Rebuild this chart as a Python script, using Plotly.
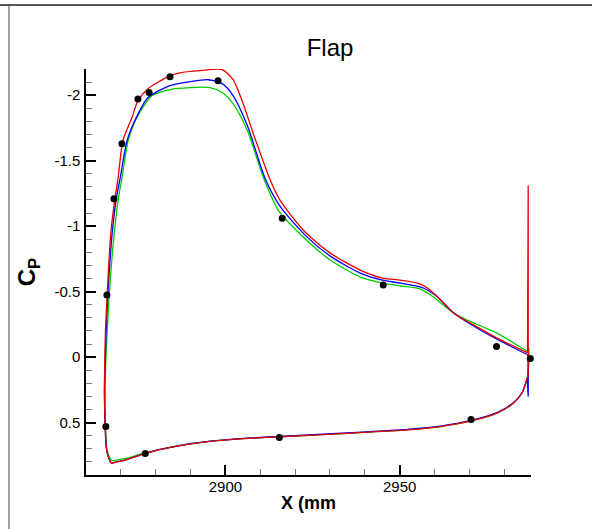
import plotly.graph_objects as go

# ---- data ----
lower_x = [2986.6, 2985.2, 2982.7, 2978.1, 2970.5, 2961.7, 2952.2, 2940.7, 2929.2,
           2915.5, 2905.2, 2895.6, 2886.1, 2876.8, 2871.7, 2867.8]
lower_y_red = [0.16, 0.27, 0.35, 0.426, 0.487, 0.53, 0.555, 0.573, 0.59,
               0.608, 0.622, 0.643, 0.68, 0.736, 0.782, 0.807]
lower_y_blue = [0.16, 0.268, 0.346, 0.422, 0.483, 0.526, 0.551, 0.57, 0.587,
                0.606, 0.62, 0.642, 0.679, 0.736, 0.782, 0.807]
lower_y_green = [0.16, 0.27, 0.35, 0.426, 0.487, 0.53, 0.555, 0.573, 0.59,
                 0.608, 0.622, 0.643, 0.678, 0.732, 0.772, 0.79]

red_x = [2867.4, 2866.9, 2865.9, 2865.5, 2865.3, 2865.4, 2865.6, 2866.1, 2866.6, 2867.2,
         2868.3, 2869.2, 2870.6, 2873.2, 2874.9, 2877.8, 2880.4, 2884.1, 2887.0, 2892.8,
         2899.1, 2902.2, 2905.1, 2908.0, 2912.9, 2915.7, 2922.4, 2930.1, 2938.7, 2945.1,
         2950.2, 2955.1, 2958.0, 2960.9, 2965.5, 2971.2, 2977.8, 2986.7]
red_y = [0.812, 0.795, 0.705, 0.528, 0.272, 0.02, -0.21, -0.49, -0.74, -0.97,
         -1.21, -1.364, -1.654, -1.829, -1.959, -2.05, -2.095, -2.148, -2.171, -2.187,
         -2.195, -2.118, -1.935, -1.707, -1.35, -1.197, -0.969, -0.794, -0.665, -0.604,
         -0.588, -0.565, -0.528, -0.459, -0.337, -0.246, -0.147, -0.033]
red_te_x = [2986.7, 2986.9, 2986.9, 2986.6]
red_te_y = [-0.033, -1.31, 0.15, 0.16]

blue_x = [2867.4, 2866.9, 2865.9, 2865.5, 2865.3, 2865.5, 2865.8, 2866.3, 2866.9, 2867.6,
          2868.7, 2869.8, 2871.8, 2874.7, 2877.8, 2884.1, 2889.9, 2895.1, 2899.1, 2902.2,
          2906.3, 2911.4, 2915.5, 2922.4, 2930.1, 2938.7, 2945.1, 2950.2, 2956.8, 2960.9,
          2965.5, 2971.2, 2977.8, 2986.7]
blue_y = [0.812, 0.795, 0.705, 0.528, 0.272, 0.02, -0.21, -0.49, -0.74, -0.97,
          -1.21, -1.364, -1.654, -1.844, -1.982, -2.073, -2.103, -2.118, -2.088, -1.997,
          -1.768, -1.364, -1.159, -0.945, -0.771, -0.642, -0.588, -0.565, -0.528, -0.459,
          -0.337, -0.238, -0.139, -0.018]
blue_te_x = [2986.7, 2986.9, 2986.9, 2986.6]
blue_te_y = [-0.018, 0.0, 0.30, 0.16]

green_x = [2867.4, 2866.9, 2866.0, 2865.6, 2865.5, 2865.7, 2866.1, 2866.7, 2867.4, 2868.2,
           2869.3, 2870.3, 2872.1, 2874.9, 2879.0, 2884.1, 2889.9, 2895.6, 2899.1, 2902.2,
           2906.3, 2910.9, 2915.2, 2922.4, 2930.1, 2938.7, 2945.1, 2950.2, 2956.0, 2959.7,
           2965.5, 2971.2, 2977.8, 2986.7]
green_y = [0.79, 0.775, 0.705, 0.528, 0.272, 0.02, -0.21, -0.49, -0.74, -0.97,
           -1.212, -1.364, -1.654, -1.844, -1.997, -2.043, -2.058, -2.058, -2.02, -1.935,
           -1.73, -1.372, -1.121, -0.916, -0.741, -0.611, -0.565, -0.543, -0.52, -0.459,
           -0.337, -0.261, -0.185, -0.043]
green_te_x = [2986.7, 2987.1, 2987.1, 2986.6]
green_te_y = [-0.043, -0.07, 0.05, 0.16]

exp_x = [2866.0, 2868.0, 2870.3, 2874.9, 2878.1, 2884.1, 2897.9, 2916.3, 2945.3, 2977.8,
         2987.5, 2865.7, 2877.0, 2915.5, 2970.5]
exp_y = [-0.474, -1.21, -1.63, -1.97, -2.02, -2.14, -2.11, -1.06, -0.55, -0.081,
         0.01, 0.53, 0.735, 0.614, 0.477]

x_tick_vals = [2900, 2950]
x_tick_text = ["2900", "2950"]
y_tick_vals = [-2, -1.5, -1, -0.5, 0, 0.5]
y_tick_text = ["-2", "-1.5", "-1", "-0.5", "0", "0.5"]

title_text = "Flap"
x_title = "X (mm"
y_title = "C<sub>P</sub>"

# ---- figure ----
fig = go.Figure()
line_w = 1.3
series = [
    ("rgb(0,205,0)", green_x, green_y, lower_y_green, green_te_x, green_te_y),
    ("rgb(0,0,255)", blue_x, blue_y, lower_y_blue, blue_te_x, blue_te_y),
    ("rgb(230,0,0)", red_x, red_y, lower_y_red, red_te_x, red_te_y),
]
for color, ux, uy, ly, tx, ty in series:
    fig.add_trace(go.Scatter(x=lower_x + ux, y=ly + uy, mode="lines",
                             line=dict(color=color, width=line_w, shape="spline", smoothing=0.7),
                             showlegend=False))
    fig.add_trace(go.Scatter(x=tx, y=ty, mode="lines",
                             line=dict(color=color, width=line_w), showlegend=False))
fig.add_trace(go.Scatter(x=exp_x, y=exp_y, mode="markers",
                         marker=dict(color="black", size=7), showlegend=False, cliponaxis=False))

font_family = "Liberation Sans, Arial, Helvetica, sans-serif"

fig.update_layout(
    width=592, height=529,
    margin=dict(l=86, r=61, t=69, b=54),
    paper_bgcolor="white", plot_bgcolor="white",
    font=dict(family=font_family, color="black", size=15),
    title=dict(text=title_text, x=(330 - 86) / 445, xanchor="center", xref="paper",
               y=1 - 48 / 529, yanchor="middle", yref="container",
               font=dict(size=24, family=font_family, color="black")),
    shapes=[
        dict(type="line", xref="paper", yref="paper", x0=-0.25, x1=1.25,
             y0=1.1576, y1=1.1576, line=dict(color="#555555", width=2)),
        dict(type="line", xref="paper", yref="paper", x0=-0.173, x1=-0.173,
             y0=1.1576, y1=-0.2, line=dict(color="#444444", width=1)),
    ],
)

fig.update_xaxes(
    range=[2860, 2987.7], showgrid=False, zeroline=False,
    showline=True, linecolor="black", linewidth=1.5,
    tickmode="array", tickvals=x_tick_vals, ticktext=x_tick_text,
    ticks="inside", ticklen=10, tickwidth=1.5, tickcolor="black",
    tickfont=dict(size=15), ticklabelstandoff=-3,
    minor=dict(dtick=10, tick0=2860, ticks="inside", ticklen=6, tickwidth=1, tickcolor="#777777"),
    title=dict(text="<b>" + x_title + "</b>", font=dict(size=18), standoff=3),
)
fig.update_yaxes(
    range=[0.9, -2.2], showgrid=False, zeroline=False,
    showline=True, linecolor="black", linewidth=1.5,
    tickmode="array", tickvals=y_tick_vals, ticktext=y_tick_text,
    ticks="inside", ticklen=10, tickwidth=1.5, tickcolor="black",
    tickfont=dict(size=15), ticklabelstandoff=1,
    minor=dict(dtick=0.1, tick0=0, ticks="inside", ticklen=6, tickwidth=1, tickcolor="#777777"),
    title=dict(text="<b>" + y_title + "</b>", font=dict(size=24), standoff=12),
)

fig.write_html("out.html")
